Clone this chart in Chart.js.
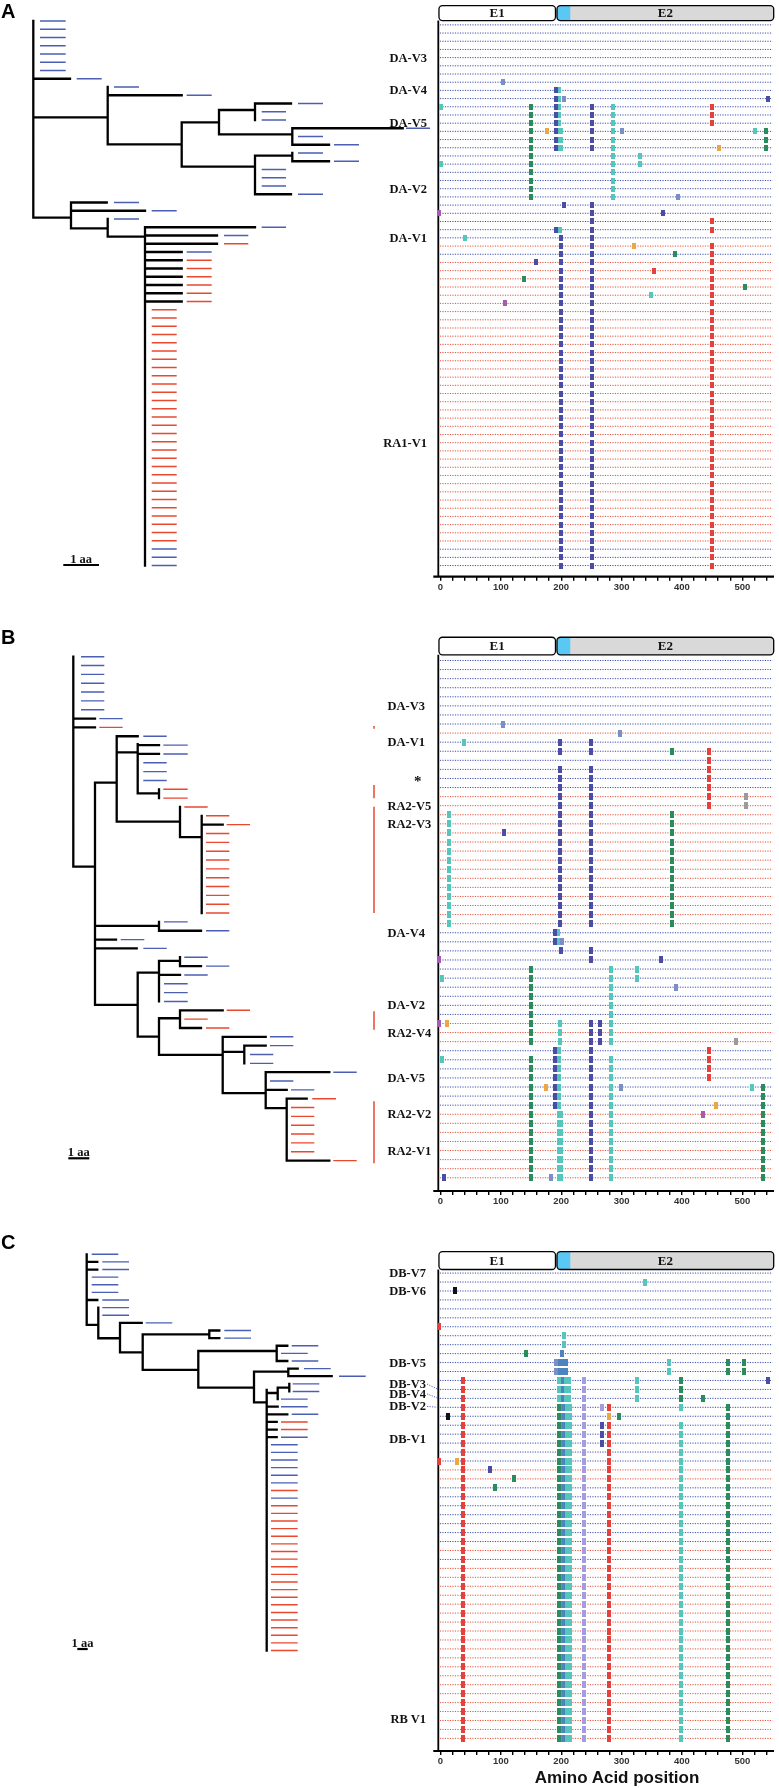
<!DOCTYPE html>
<html>
<head>
<meta charset="utf-8">
<title>Phylogeny and amino acid variation</title>
<script src="https://cdn.jsdelivr.net/npm/chart.js@4.4.1/dist/chart.umd.min.js"></script>
<style>
  html, body { margin: 0; padding: 0; background: #fff; }
  #fig { position: relative; width: 779px; height: 1788px; overflow: hidden; background: #fff; }
  #fig canvas { position: absolute; }
  .txt { position: absolute; white-space: nowrap; line-height: 1; color: #111; }
  .lab { font: bold 12.5px "Liberation Serif", "Times New Roman", serif; }
  .star { font: bold 15px "Liberation Serif", "Times New Roman", serif; }
  .exon { font: bold 13px "Liberation Serif", "Times New Roman", serif; }
  .bar { font: bold 12.5px "Liberation Serif", "Times New Roman", serif; }
  .letter { font: bold 20px "Liberation Sans", Arial, sans-serif; color: #000; }
  .axtitle { font: bold 17px "Liberation Sans", Arial, sans-serif; color: #111; }
</style>
</head>
<body>
<div id="fig"></div>
<script>
// ---------- shared amino-acid axis ----------
const aaTicks = [0, 100, 200, 300, 400, 500];
const exons = [['E1', -2.5, 190.5], ['E2', 193, 552]];
const signalPeptide = [193, 215];
const rowSpan = [-1, 550];

// ---------- panel A ----------
// tree: horizontal branches [x1, x2, row], vertical [x, row1, row2], tips [row1, row2, x1, x2, colour]
const treeA_horz = [
  [33.3, 70, 7], [33.3, 107.7, 11.68], [107.7, 181.7, 9], [107.7, 181.7, 14.95],
  [181.7, 219, 12.28], [219, 255, 10.79], [255, 291, 10], [219, 292.3, 13.74],
  [292.3, 402.7, 13], [292.3, 329, 15], [181.7, 255, 17.66], [255, 292.3, 16.32],
  [292.3, 329, 17], [255, 291, 21], [33.3, 71, 23.84], [71, 106.7, 22], [71, 145, 23],
  [71, 107.7, 25.13], [107.7, 145, 26.14], [145, 255, 25], [145, 217, 26], [145, 217, 27],
  [145, 181.7, 28], [145, 181.7, 29], [145, 181.7, 30], [145, 181.7, 31],
  [145, 181.7, 32], [145, 181.7, 33], [145, 181.7, 34]
];
const treeA_vert = [
  [33.3, 0, 23.84], [107.7, 8, 14.95], [181.7, 12.28, 17.66], [219, 10.79, 13.74],
  [255, 10, 12], [292.3, 13, 15], [255, 16.32, 21], [292.3, 16, 17],
  [71, 22, 25.13], [107.7, 24, 26.14], [145, 25, 66]
];
const treeA_tips = [
  [0, 6, 40, 65.7, 'b'], [7, 7, 76.7, 101.7, 'b'], [8, 8, 114, 139, 'b'], [9, 9, 186.7, 211.7, 'b'],
  [10, 10, 298, 323, 'b'], [11, 12, 261.7, 286, 'b'], [13, 13, 406, 430, 'b'], [14, 14, 298, 323, 'b'],
  [15, 15, 334, 359, 'b'], [16, 16, 298, 323, 'b'], [17, 17, 334, 359, 'b'], [18, 20, 261.7, 286, 'b'],
  [21, 21, 298, 323, 'b'], [22, 22, 114, 139, 'b'], [23, 23, 151.7, 176.7, 'b'], [24, 24, 114, 139, 'b'],
  [25, 25, 261.7, 286, 'b'], [26, 26, 224, 248.3, 'b'], [27, 27, 224, 248.3, 'r'], [28, 28, 186.7, 211.7, 'b'],
  [29, 34, 186.7, 211.7, 'r'], [35, 63, 151.7, 176.7, 'r'], [64, 66, 151.7, 176.7, 'b']
];
const scaleBarA = [63.3, 99, 65.94];
const rowsA = [[0, 26, 'b'], [27, 27, 'r'], [28, 28, 'b'], [29, 63, 'r'], [64, 66, 'b']];
// mutations [row1, row2, aa position, colour]
const mutA = [
  [7, 7, 104, 'st'], [8, 15, 192, 'db'], [8, 15, 197, 'te'], [13, 15, 200, 'te'], [9, 9, 204, 'st'],
  [9, 9, 543, 'db'], [10, 10, 1, 'te'], [17, 17, 1, 'te'], [10, 21, 150, 'gr'], [10, 15, 251, 'db'],
  [10, 21, 286, 'te'], [10, 12, 450, 'rd'], [13, 13, 177, 'or'], [13, 13, 301, 'st'], [13, 13, 521, 'te'],
  [13, 15, 540, 'gr'], [15, 15, 462, 'or'], [16, 17, 330, 'te'], [21, 21, 394, 'st'], [22, 22, 204, 'db'],
  [22, 66, 251, 'db'], [23, 23, -2, 'mg'], [23, 23, 369, 'db'], [24, 25, 450, 'rd'], [27, 66, 450, 'rd'],
  [25, 25, 192, 'db'], [25, 25, 198, 'te'], [26, 66, 200, 'db'], [26, 26, 40, 'te'], [27, 27, 321, 'or'],
  [28, 28, 388, 'gr'], [29, 29, 158, 'db'], [30, 30, 354, 'rd'], [31, 31, 138, 'gr'], [32, 32, 504, 'gr'],
  [33, 33, 349, 'te'], [34, 34, 107, 'mg']
];
const labelsA = [['DA-V3', 4], ['DA-V4', 8], ['DA-V5', 12], ['DA-V2', 20], ['DA-V1', 26], ['RA1-V1', 51]];

// ---------- panel B ----------
const treeB_horz = [
  [73.3, 95, 7], [73.3, 95, 8], [73.3, 95, 23.75], [95, 116.7, 14.25],
  [116.7, 137.7, 9], [116.7, 137.7, 10.82], [137.7, 159, 10], [137.7, 159, 11], [137.7, 159, 15.45],
  [116.7, 180, 18.66], [180, 201.7, 20.4], [201.7, 222.7, 19],
  [95, 159, 30.46], [159, 201, 31], [95, 116, 32], [95, 136.7, 33],
  [95, 137.7, 39.39], [137.7, 159, 35.73], [159, 180, 34.41], [180, 201, 35], [159, 180, 36],
  [137.7, 159, 42.97], [159, 180, 40.9], [180, 222.7, 40], [180, 201, 42],
  [159, 222.7, 45.04], [222.7, 265.7, 43], [222.7, 244.3, 44.7], [244.3, 265.7, 44],
  [222.7, 265.7, 49.38], [265.7, 329.3, 47], [265.7, 286.7, 49], [265.7, 286.7, 51.07],
  [286.7, 306.7, 50], [286.7, 329.3, 57]
];
const treeB_vert = [
  [73.3, 0, 23.75], [95, 14.25, 39.39], [116.7, 9, 18.66], [137.7, 9.88, 15.45], [159, 15, 16],
  [180, 17, 20.4], [201.7, 18, 29], [159, 30, 31], [137.7, 35.73, 42.97], [159, 34.41, 39],
  [180, 34, 35], [159, 40.9, 45.04], [180, 40, 42], [222.7, 43, 49.38], [244.3, 44, 46],
  [265.7, 47, 51.07], [286.7, 50, 57]
];
const treeB_tips = [
  [0, 6, 81, 104.3, 'b'], [7, 7, 99.3, 122.7, 'b'], [8, 8, 99.3, 122.7, 'r'],
  [9, 9, 143.3, 166.7, 'b'], [10, 11, 163.3, 187.7, 'b'], [12, 14, 143.3, 166.7, 'b'],
  [15, 16, 163.3, 187.7, 'r'], [17, 17, 184.3, 207.7, 'r'], [18, 18, 206, 229.3, 'r'],
  [19, 19, 226.7, 250, 'r'], [20, 29, 206, 229.3, 'r'],
  [30, 30, 164, 187.7, 'b'], [31, 31, 206, 229.3, 'b'], [32, 32, 120.7, 144.3, 'b'], [33, 33, 143.3, 166.7, 'b'],
  [34, 34, 184.3, 207.7, 'b'], [35, 35, 206, 229.3, 'b'], [36, 36, 184.3, 207.7, 'b'], [37, 39, 164, 187.7, 'b'],
  [40, 40, 226.7, 250, 'r'], [41, 41, 184.3, 207.7, 'r'], [42, 42, 206, 229.3, 'r'],
  [43, 44, 270, 293.3, 'b'], [45, 46, 250, 273.3, 'b'], [47, 47, 333.3, 356.7, 'b'], [48, 48, 270, 293.3, 'b'],
  [49, 49, 291, 314.3, 'b'], [50, 50, 312.3, 336, 'r'], [51, 56, 291, 314.3, 'r'], [57, 57, 333.3, 356.7, 'r']
];
const treeB_marks = [[374, 7.84, 8.14], [374, 14.5, 16], [374, 16.96, 29], [374, 40.1, 42.2], [374, 50.3, 57.3]];
const scaleBarB = [68.3, 89.3, 56.74];
const rowsB = [[0, 7, 'b'], [8, 8, 'r'], [9, 14, 'b'], [15, 29, 'r'], [30, 39, 'b'], [40, 42, 'r'], [43, 49, 'b'], [50, 57, 'r']];
const mutB = [
  [7, 7, 103, 'st'], [8, 8, 297, 'st'], [9, 9, 39, 'te'], [9, 10, 197.5, 'db'], [12, 29, 197.5, 'db'],
  [9, 10, 249, 'db'], [12, 29, 249, 'db'], [10, 10, 383, 'gr'], [17, 29, 383, 'gr'], [10, 16, 444.5, 'rd'],
  [15, 16, 505.7, 'gy'], [17, 29, 14.5, 'te'], [19, 19, 105.7, 'db'], [30, 31, 189.3, 'db'], [30, 31, 194.8, 'te'],
  [31, 31, 201.3, 'st'], [32, 32, 200, 'db'], [32, 33, 249, 'db'], [33, 33, -2.5, 'mg'], [33, 33, 365, 'db'],
  [34, 42, 149.4, 'gr'], [44, 57, 149.4, 'gr'], [34, 42, 283.3, 'te'], [44, 57, 283.3, 'te'], [34, 35, 326, 'te'],
  [35, 35, 1.9, 'te'], [44, 44, 1.9, 'te'], [36, 36, 390, 'st'], [40, 40, -2.5, 'mg'], [40, 40, 10, 'or'],
  [40, 42, 198.6, 'te'], [40, 57, 249, 'db'], [40, 42, 264, 'db'], [42, 42, 489, 'gy'], [43, 49, 190.4, 'db'],
  [43, 49, 196, 'te'], [43, 46, 444.5, 'rd'], [47, 47, 175, 'or'], [47, 47, 298.6, 'st'], [47, 47, 515.6, 'te'],
  [47, 57, 534.7, 'gr'], [49, 49, 456.5, 'or'], [50, 57, 196, 'te'], [50, 57, 199.5, 'te'], [50, 50, 435, 'mg'],
  [57, 57, 6.3, 'db'], [57, 57, 183.3, 'st']
];
const labelsB = [['DA-V3', 5], ['DA-V1', 9], ['*', 13], ['RA2-V5', 16], ['RA2-V3', 18], ['DA-V4', 30],
  ['DA-V2', 38], ['RA2-V4', 41], ['DA-V5', 46], ['RA2-V2', 50], ['RA2-V1', 54]];

// ---------- panel C ----------
const treeC_horz = [
  [86.7, 97.3, 1], [86.7, 97.3, 2], [86.7, 97.3, 6], [86.7, 98.3, 9.27],
  [98.3, 120, 11.02], [120, 141.7, 9], [120, 142.7, 12.86],
  [142.7, 209.3, 10.5], [209.3, 219.3, 10], [209.3, 219.3, 11],
  [142.7, 198.3, 15.18], [198.3, 276.7, 12.69], [276.7, 287.3, 12], [276.7, 287.3, 14],
  [198.3, 254, 17.5], [254, 288.3, 15.4], [288.3, 297.7, 15], [288.3, 331.7, 16],
  [254, 266.7, 19.42], [266.7, 277.7, 18.2], [277.7, 289.3, 17.5],
  [266.7, 277.7, 20], [266.7, 287.3, 21], [266.7, 276.7, 22], [266.7, 276.7, 23], [266.7, 276.7, 24]
];
const treeC_vert = [
  [86.7, 0, 9.27], [98.3, 7, 11.02], [120, 9, 12.86], [142.7, 10.5, 15.18], [209.3, 10, 11],
  [198.3, 12.69, 17.5], [276.7, 12, 14], [254, 15.4, 19.42], [288.3, 15, 16],
  [266.7, 17.8, 52], [277.7, 17.5, 19], [289.3, 17, 18]
];
const treeC_tips = [
  [0, 0, 91.7, 118.3, 'b'], [1, 2, 102.3, 129, 'b'], [3, 5, 91.7, 118.3, 'b'], [6, 8, 102.3, 129, 'b'],
  [9, 9, 145.7, 172.3, 'b'], [10, 11, 224.3, 251, 'b'], [12, 12, 291.7, 318.3, 'b'], [13, 13, 281, 307.7, 'b'],
  [14, 14, 291.7, 318.3, 'b'], [15, 15, 304, 330.7, 'b'], [16, 16, 339, 365.7, 'b'], [17, 18, 292.7, 319.3, 'b'],
  [19, 20, 281, 307.7, 'b'], [21, 21, 291.7, 318.3, 'b'], [22, 23, 281, 307.7, 'r'], [24, 24, 281, 307.7, 'b'],
  [25, 30, 271, 297.7, 'b'], [31, 31, 271, 297.7, 'r'], [32, 32, 271, 297.7, 'b'], [33, 52, 271, 297.7, 'r']
];
const scaleBarC = [77.3, 87.7, 51.8];
const rowsC = [[0, 21, 'b'], [22, 23, 'r'], [24, 30, 'b'], [31, 31, 'r'], [32, 32, 'b'], [33, 52, 'r']];
const mutC = [
  [1, 1, 338, 'te'], [2, 2, 24, 'bk'], [6, 6, -2, 'rd'], [7, 8, 204, 'te'], [9, 9, 141, 'gr'], [9, 9, 202, 'sb'],
  [10, 11, 191, 'st'], [10, 11, 197, 'sb'], [10, 11, 203, 'sb'], [10, 11, 208, 'sb'], [10, 11, 378, 'te'],
  [10, 11, 477, 'gr'], [10, 11, 502, 'gr'], [12, 52, 37.4, 'rd'], [12, 14, 197, 'te'], [12, 14, 203, 'sb'],
  [12, 14, 208, 'te'], [12, 14, 213, 'te'], [12, 52, 238, 'lv'], [12, 14, 326, 'te'], [12, 14, 398, 'gr'],
  [12, 12, 542, 'db'], [14, 14, 435, 'gr'], [15, 52, 196, 'gr'], [15, 52, 201, 'tb'], [15, 52, 205, 'sb'],
  [15, 52, 210, 'te'], [15, 52, 214, 'te'], [15, 15, 268, 'lv'], [17, 19, 268, 'db'], [15, 15, 279, 'rd'],
  [17, 52, 279, 'rd'], [16, 16, 279, 'or'], [16, 16, 11.7, 'bk'], [16, 16, 296, 'gr'], [15, 15, 398, 'te'],
  [17, 52, 398, 'te'], [15, 52, 477, 'gr'], [21, 21, -2, 'rd'], [21, 21, 27.6, 'or'], [22, 22, 82, 'db'],
  [23, 23, 122, 'gr'], [24, 24, 91, 'gr']
];
const labelsC = [['DB-V7', 0], ['DB-V6', 2], ['DB-V5', 10], ['DB-V3', 12.4], ['DB-V4', 13.5],
  ['DB-V2', 14.9], ['DB-V1', 18.5], ['RB V1', 49.8]];
const leadersC = [[12.4, 13], [13.5, 14], [14.9, 15]];

// ---------- styles ----------
const rowColor = { b: '#3d4fae', r: '#e8513a' };
const tipColor = { b: '#4b5fb3', r: '#e8482e' };
const markColor = {
  db: '#4b4ca6', te: '#55c6bc', gr: '#2a8b5d', rd: '#e5403b', or: '#eba645', st: '#7b8ec6',
  mg: '#a35bb4', gy: '#9b9b9b', lv: '#a49ce0', bk: '#111111', sb: '#4d84bf', tb: '#3ea5c2'
};

// page geometry of each panel (pixels)
const panels = [
  { letter: 'A', top: 0, h: 600, row0: 21, step: 8.25, axisY: 576.7, boxTop: 1.7, boxBot: 16.7,
    treeRow0: 21, treeStep: 8.25, markH: 6, letterTop: 0,
    horz: treeA_horz, vert: treeA_vert, tips: treeA_tips, bar: scaleBarA, rows: rowsA, muts: mutA,
    labels: labelsA, labelX: 427, align: 'right' },
  { letter: 'B', top: 628, h: 588, row0: 656.7, step: 9.14, axisY: 1191, boxTop: 633.3, boxBot: 651,
    treeRow0: 656.7, treeStep: 8.84, markH: 7, letterTop: 626,
    horz: treeB_horz, vert: treeB_vert, tips: treeB_tips, bar: scaleBarB, marks: treeB_marks, rows: rowsB, muts: mutB,
    labels: labelsB, labelX: 387.5, align: 'left' },
  { letter: 'C', top: 1242, h: 546, row0: 1269.3, step: 9.019, axisY: 1751, boxTop: 1247.7, boxBot: 1265.7,
    treeRow0: 1254.3, treeStep: 7.62, markH: 7, letterTop: 1230.5,
    horz: treeC_horz, vert: treeC_vert, tips: treeC_tips, bar: scaleBarC, rows: rowsC, muts: mutC,
    labels: labelsC, labelX: 426, align: 'right', leaders: leadersC }
];

const fig = document.getElementById('fig');
const MAP_LEFT = 370, MAP_W = 409, AXIS_X = 438.3, TREE_W = 436;

function addCanvas(left, top, w, h) {
  const c = document.createElement('canvas');
  c.width = w; c.height = h;
  c.style.left = left + 'px'; c.style.top = top + 'px';
  c.style.width = w + 'px'; c.style.height = h + 'px';
  fig.appendChild(c);
  return c;
}

function addText(text, cls, left, top, tf) {
  const d = document.createElement('div');
  d.className = 'txt ' + cls;
  d.textContent = text;
  d.style.left = left + 'px';
  d.style.top = top + 'px';
  if (tf) d.style.transform = tf;
  fig.appendChild(d);
  return d;
}

function lineSegs(horz, vert) {
  const pts = [];
  horz.forEach(([x1, x2, r]) => pts.push({x: x1, y: r}, {x: x2, y: r}, {x: NaN, y: NaN}));
  vert.forEach(([x, r1, r2]) => pts.push({x: x, y: r1}, {x: x, y: r2}, {x: NaN, y: NaN}));
  return pts;
}

function tipSegs(tips, c) {
  const pts = [];
  tips.forEach(([r1, r2, x1, x2, col]) => {
    if (col !== c) return;
    for (let r = r1; r <= r2; r++) pts.push({x: x1, y: r}, {x: x2, y: r}, {x: NaN, y: NaN});
  });
  return pts;
}

function rowSegs(rows, c) {
  const pts = [];
  rows.forEach(([r1, r2, col]) => {
    if (col !== c) return;
    for (let r = r1; r <= r2; r++) pts.push({x: rowSpan[0], y: r}, {x: rowSpan[1], y: r}, {x: NaN, y: NaN});
  });
  return pts;
}

function markPts(muts, k) {
  const pts = [];
  muts.forEach(([r1, r2, aa, col]) => {
    if (col !== k) return;
    for (let r = r1; r <= r2; r++) pts.push({x: aa, y: r});
  });
  return pts;
}

function markImg(color, w, h) {
  const c = document.createElement('canvas');
  c.width = w; c.height = h;
  const g = c.getContext('2d');
  g.fillStyle = color;
  g.fillRect(0, 0, w, h);
  return c;
}

function roundRectPath(ctx, x, y, w, h, r) {
  ctx.beginPath();
  ctx.moveTo(x + r, y);
  ctx.lineTo(x + w - r, y);
  ctx.arcTo(x + w, y, x + w, y + r, r);
  ctx.lineTo(x + w, y + h - r);
  ctx.arcTo(x + w, y + h, x + w - r, y + h, r);
  ctx.lineTo(x + r, y + h);
  ctx.arcTo(x, y + h, x, y + h - r, r);
  ctx.lineTo(x, y + r);
  ctx.arcTo(x, y, x + r, y, r);
  ctx.closePath();
}

const baseOpts = {
  responsive: false, maintainAspectRatio: false, animation: false, events: [], devicePixelRatio: 1,
  plugins: { legend: { display: false }, tooltip: { enabled: false } }
};

function lineSet(data, color, width, extra) {
  return Object.assign({ data, showLine: true, borderColor: color, borderWidth: width,
    pointRadius: 0, clip: false, fill: false }, extra || {});
}

function drawTree(P) {
  const cv = addCanvas(0, P.top, TREE_W, P.h);
  const ds = [
    lineSet(lineSegs(P.horz, P.vert), '#000', 2.3, { borderCapStyle: 'square' }),
    lineSet(tipSegs(P.tips, 'b'), tipColor.b, 1.4),
    lineSet(tipSegs(P.tips, 'r'), tipColor.r, 1.4),
    lineSet(lineSegs([P.bar], []), '#000', 2.2)
  ];
  if (P.marks) ds.push(lineSet(lineSegs([], P.marks), tipColor.r, 1.5));
  const chart = new Chart(cv, {
    type: 'scatter',
    data: { datasets: ds },
    options: Object.assign({}, baseOpts, {
      layout: { padding: 0 },
      scales: {
        x: { type: 'linear', display: false, min: 0, max: TREE_W },
        y: { type: 'linear', display: false, reverse: true,
             min: (P.top - P.treeRow0) / P.treeStep, max: (P.top + P.h - P.treeRow0) / P.treeStep }
      }
    })
  });
  // "1 aa" scale bar label
  const bx = chart.scales.x.getPixelForValue((P.bar[0] + P.bar[1]) / 2);
  const by = P.top + chart.scales.y.getPixelForValue(P.bar[2]);
  addText('1 aa', 'bar', bx, by - 13.5, 'translateX(-50%)');
  return chart;
}

function makeDecor(P) {
  const rowOf = px => (px - P.row0) / P.step;
  return {
    id: 'mapDecor',
    beforeDatasetsDraw(chart) {
      const {ctx, chartArea: a, scales: {x, y}} = chart;
      const bt = y.getPixelForValue(rowOf(P.boxTop)), bb = y.getPixelForValue(rowOf(P.boxBot));
      ctx.save();
      ctx.strokeStyle = '#000';
      ctx.lineWidth = 1.8;
      ctx.beginPath(); ctx.moveTo(a.left, bb); ctx.lineTo(a.left, a.bottom); ctx.stroke();
      ctx.lineWidth = 2.2;
      ctx.beginPath(); ctx.moveTo(a.left - 5, a.bottom); ctx.lineTo(a.right, a.bottom); ctx.stroke();
      exons.forEach(([name, s, e], i) => {
        const x1 = x.getPixelForValue(s), x2 = x.getPixelForValue(e);
        roundRectPath(ctx, x1, bt, x2 - x1, bb - bt, 3.5);
        ctx.fillStyle = i ? '#d9d9d9' : '#ffffff';
        ctx.fill();
        if (i) {
          ctx.save();
          ctx.clip();
          const s1 = x.getPixelForValue(signalPeptide[0]), s2 = x.getPixelForValue(signalPeptide[1]);
          ctx.fillStyle = '#5ac8f5';
          ctx.fillRect(s1, bt, s2 - s1, bb - bt);
          ctx.restore();
        }
        ctx.lineWidth = 1.3;
        ctx.strokeStyle = '#000';
        ctx.stroke();
      });
      if (P.leaders) {
        ctx.strokeStyle = rowColor.b;
        ctx.lineWidth = 0.9;
        ctx.setLineDash([1.2, 1.3]);
        P.leaders.forEach(([lr, rr]) => {
          ctx.beginPath();
          ctx.moveTo(P.labelX - MAP_LEFT + 1, y.getPixelForValue(lr));
          ctx.lineTo(a.left, y.getPixelForValue(rr));
          ctx.stroke();
        });
      }
      ctx.restore();
    }
  };
}

function drawMap(P) {
  const cv = addCanvas(MAP_LEFT, P.top, MAP_W, P.h);
  const ds = [
    lineSet(rowSegs(P.rows, 'b'), rowColor.b, 1, { borderDash: [1.2, 1.3], order: 2 }),
    lineSet(rowSegs(P.rows, 'r'), rowColor.r, 1, { borderDash: [1.2, 1.3], order: 2 })
  ];
  Object.keys(markColor).forEach(k => {
    const pts = markPts(P.muts, k);
    if (!pts.length) return;
    ds.push({ data: pts, pointStyle: markImg(markColor[k], 4, P.markH), pointRadius: 3, order: 1, clip: false });
  });
  const chart = new Chart(cv, {
    type: 'scatter',
    data: { datasets: ds },
    options: Object.assign({}, baseOpts, {
      layout: { padding: { left: AXIS_X - MAP_LEFT, right: 1.5, top: 1, bottom: P.top + P.h - P.axisY - 20 } },
      scales: {
        x: {
          type: 'linear', min: -3.6, max: 552.5,
          border: { display: false },
          grid: { drawOnChartArea: false, drawTicks: true, tickLength: 4, color: '#000', lineWidth: 1.4 },
          ticks: {
            stepSize: 20, includeBounds: false, autoSkip: false, maxRotation: 0, padding: 1, color: '#333',
            font: { family: '"Liberation Sans", Arial, sans-serif', size: 9.5, weight: 'bold' },
            callback: v => aaTicks.includes(v) ? String(v) : ''
          },
          afterBuildTicks: s => { s.ticks = s.ticks.filter(t => t.value >= 0 && Math.abs(t.value / 20 - Math.round(t.value / 20)) < 1e-6); },
          afterFit: s => { s.height = 20; }
        },
        y: { type: 'linear', display: false, reverse: true,
             min: (P.top + 1 - P.row0) / P.step, max: (P.axisY - P.row0) / P.step }
      }
    }),
    plugins: [makeDecor(P)]
  });

  const x = chart.scales.x, y = chart.scales.y;
  // exon names
  const boxMid = P.top + y.getPixelForValue(((P.boxTop + P.boxBot) / 2 - P.row0) / P.step);
  exons.forEach(([name, s, e]) => {
    addText(name, 'exon', MAP_LEFT + x.getPixelForValue((s + e) / 2), boxMid, 'translate(-50%,-50%)');
  });
  // variant labels
  P.labels.forEach(([txt, row]) => {
    const py = P.top + y.getPixelForValue(row);
    if (txt === '*') addText(txt, 'star', 417.7, py, 'translate(-50%,-30%)');
    else if (P.align === 'right') addText(txt, 'lab', P.labelX, py, 'translate(-100%,-50%)');
    else addText(txt, 'lab', P.labelX, py, 'translate(0,-50%)');
  });
  return chart;
}

panels.forEach(P => {
  drawTree(P);
  drawMap(P);
  addText(P.letter, 'letter', 1, P.letterTop);
});

addText('Amino Acid position', 'axtitle', 617, 1778, 'translate(-50%,-50%)');
</script>
</body>
</html>
